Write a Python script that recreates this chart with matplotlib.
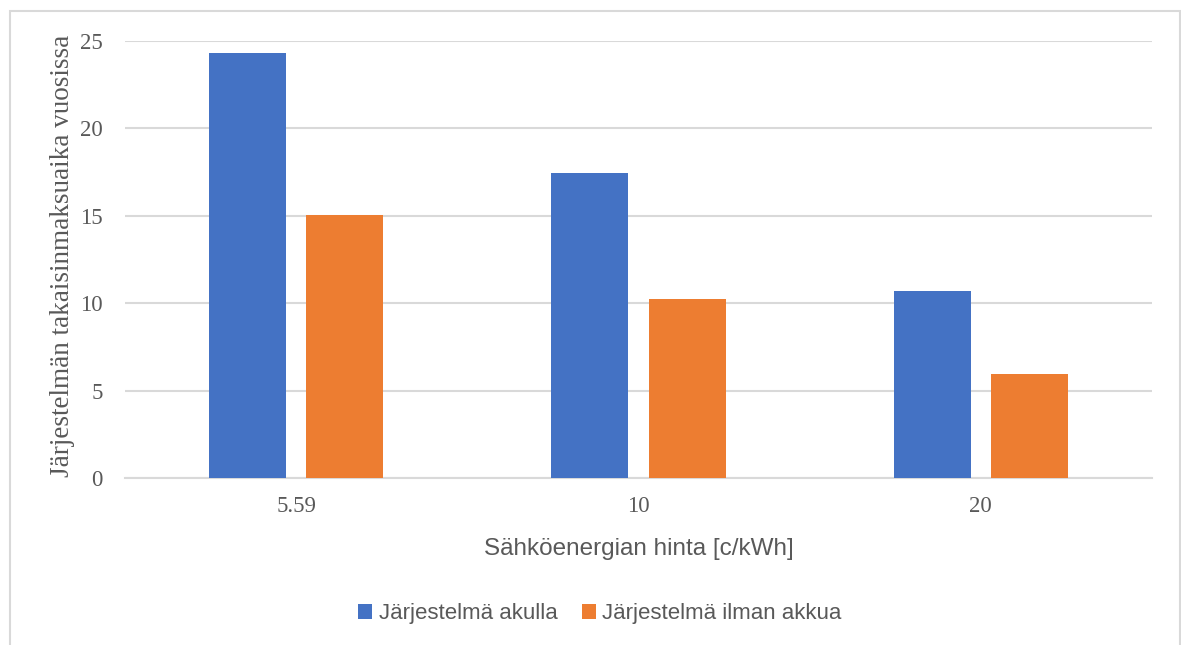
import numpy as np
import matplotlib.pyplot as plt
from matplotlib.patches import Rectangle

# data
hinnat = ['5.59', '10', '20']
akulla = [24.3, 17.45, 10.68]
ilman_akkua = [15.05, 10.22, 5.93]
sarjat = ['Järjestelmä akulla', 'Järjestelmä ilman akkua']

SININEN = '#4472C4'
ORANSSI = '#ED7D31'
HARMAA = '#595959'

fig = plt.figure(figsize=(11.81, 6.45), dpi=100)
ax = fig.add_axes([125 / 1181, 1 - 478 / 645, 1027 / 1181, 437 / 645])

x = np.arange(len(hinnat))
leveys = 0.225
ax.bar(x - 0.142, akulla, leveys, color=SININEN, label=sarjat[0], zorder=3)
ax.bar(x + 0.142, ilman_akkua, leveys, color=ORANSSI, label=sarjat[1], zorder=3)

ax.set_xlim(-0.5, len(hinnat) - 0.5)
ax.set_ylim(0, 25)
ax.set_yticks(range(0, 26, 5))
ax.set_xticks(x)
ax.set_xticklabels(hinnat)

for s in ['top', 'right', 'left']:
    ax.spines[s].set_visible(False)
ax.spines['bottom'].set_color('#D9D9D9')
ax.spines['bottom'].set_linewidth(1.5)
ax.grid(axis='y', color='#D9D9D9', linewidth=1.5, zorder=0)
ax.tick_params(length=0, colors=HARMAA, labelsize=16.5)
ax.tick_params(axis='y', pad=16)
ax.tick_params(axis='x', pad=13)
for t in ax.get_xticklabels() + ax.get_yticklabels():
    t.set_family('Liberation Serif')

ax.set_ylabel('Järjestelmän takaisinmaksuaika vuosissa', family='Liberation Serif',
              fontsize=19.5, color=HARMAA, va='center')
ax.yaxis.set_label_coords(-0.061, 0.508)
ax.set_xlabel('Sähköenergian hinta [c/kWh]', family='Liberation Sans',
              fontsize=17.5, color=HARMAA, va='center')
ax.xaxis.set_label_coords(0.5, -0.162)

leg = fig.legend(loc='center', bbox_to_anchor=(600 / 1181, 1 - 614 / 645), ncol=2,
                 frameon=False, handlelength=0.62, handleheight=0.62,
                 handletextpad=0.3, columnspacing=1.1,
                 prop={'family': 'Liberation Sans', 'size': 16})
for t in leg.get_texts():
    t.set_color(HARMAA)

# light frame round the chart, open at the bottom
fig.patches.append(Rectangle((10 / 1181, -0.05), 1170 / 1181, 1.05 - 11 / 645,
                             transform=fig.transFigure, fill=False,
                             edgecolor='#D9D9D9', linewidth=1.5))

fig.savefig('out.png', dpi=100)
